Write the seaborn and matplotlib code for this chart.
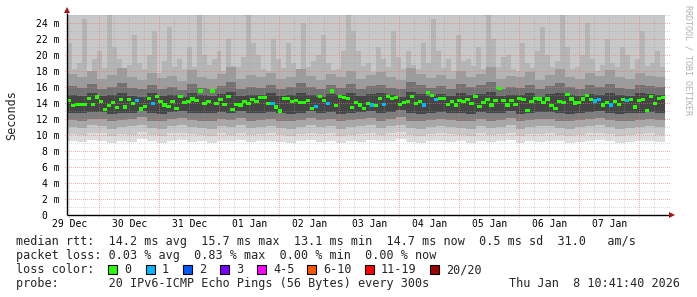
import numpy as np
import pandas as pd
import matplotlib
matplotlib.use("Agg")
import matplotlib.pyplot as plt
import seaborn as sns
from matplotlib.path import Path
from matplotlib.patches import Rectangle

sns.set_theme(style="white")
plt.rcParams['font.family'] = ['DejaVu Sans Mono', 'DejaVu Sans']

# ---------------- data ----------------
day_labels = ['29 Dec', '30 Dec', '31 Dec', '01 Jan', '02 Jan',
              '03 Jan', '04 Jan', '05 Jan', '06 Jan', '07 Jan']
y_tick_vals = [0, 2, 4, 6, 8, 10, 12, 14, 16, 18, 20, 22, 24]
y_tick_text = ['0  ', '2 m', '4 m', '6 m', '8 m', '10 m', '12 m', '14 m',
               '16 m', '18 m', '20 m', '22 m', '24 m']

# median rtt (ms), one value per ~1.6 h step
median_ms = [
    14.3, 13.7, 13.85, 13.8, 13.85, 14.55, 13.85, 14.75, 14.2, 13.15,
    13.7, 14.05, 13.4, 14.45, 13.5, 14.45, 13.95, 14.3, 13.25, 13.55,
    14.6, 13.95, 14.85, 14.15, 13.75, 13.55, 14.15, 13.35, 14.8, 14.05,
    14.2, 14.5, 14.3, 15.5, 13.95, 14.15, 15.5, 13.95, 14.45, 13.85,
    14.85, 13.15, 13.85, 13.75, 14.15, 13.9, 14.4, 14.2, 14.7, 14.7,
    13.9, 13.95, 13.5, 13.0, 14.6, 14.6, 14.15, 14.3, 14.1, 14.1,
    14.3, 13.35, 13.6, 14.85, 14.3, 13.95, 15.5, 13.65, 14.85, 14.7,
    14.6, 13.4, 14.05, 13.75, 13.3, 13.9, 13.75, 13.65, 14.55, 13.85,
    14.85, 14.55, 14.7, 13.85, 14.05, 14.2, 14.8, 13.9, 14.15, 13.75,
    15.35, 14.95, 14.4, 14.6, 14.6, 13.85, 14.15, 13.75, 14.3, 14.15,
    14.4, 13.9, 14.85, 13.6, 14.05, 14.45, 13.75, 14.3, 15.8, 14.35,
    13.75, 14.3, 13.85, 14.6, 14.45, 13.05, 14.15, 14.6, 14.5, 14.05,
    14.5, 13.7, 13.3, 14.2, 14.1, 15.05, 14.5, 14.0, 14.05, 14.5,
    14.9, 14.4, 14.25, 14.45, 13.75, 14.05, 13.75, 14.15, 13.8, 14.45,
    14.3, 14.4, 13.5, 14.3, 14.45, 13.1, 14.8, 13.9, 14.6, 14.65,
]
# steps where 1 of 20 pings was lost
loss1_steps = [17, 21, 51, 62, 65, 76, 79, 89, 92, 132, 133, 136, 140]

# smoke (ms), one value per ~4 h step
smoke_min = [
    9.2, 9.1, 9.4, 9.2, 9.0, 9.3, 9.1, 9.5, 9.2, 9.0, 9.3, 9.4, 9.1, 9.2, 9.0, 9.3, 9.2, 9.4, 9.1, 9.2,
    9.3, 9.1, 9.0, 9.2, 9.4, 9.1, 9.3, 9.0, 9.2, 9.1, 9.4, 9.2, 9.3, 9.5, 9.1, 9.0, 9.2, 9.3, 9.1, 9.2,
    9.0, 9.3, 9.1, 9.2, 9.4, 9.0, 9.2, 9.1, 9.3, 9.2, 9.0, 9.1, 9.3, 9.4, 9.2, 9.0, 9.1, 9.2, 9.3, 9.1]
smoke_lo1 = [
    10.1, 10.0, 10.2, 10.2, 9.9, 10.1, 10.0, 10.4, 10.0, 9.9, 10.2, 10.3, 10.1, 10.0, 9.9, 10.2, 10.0, 10.3, 10.0, 10.1,
    10.2, 10.0, 9.9, 10.1, 10.3, 10.1, 10.2, 9.9, 10.0, 10.1, 10.3, 10.0, 10.2, 10.4, 10.0, 9.9, 10.1, 10.2, 10.1, 10.0,
    9.9, 10.2, 10.0, 10.1, 10.3, 9.9, 10.1, 10.1, 10.2, 10.0, 9.9, 10.0, 10.2, 10.3, 10.1, 9.9, 10.0, 10.1, 10.2, 10.0]
smoke_lo2 = [
    11.0, 10.9, 11.2, 11.1, 10.8, 11.0, 11.1, 11.3, 10.9, 10.8, 11.1, 11.2, 11.0, 10.9, 10.8, 11.1, 11.0, 11.2, 10.9, 11.0,
    11.1, 10.9, 10.8, 11.0, 11.2, 11.0, 11.1, 10.8, 11.0, 11.1, 11.2, 10.9, 11.1, 11.3, 10.9, 10.8, 11.0, 11.1, 11.0, 10.9,
    10.8, 11.1, 10.9, 11.0, 11.2, 10.8, 11.0, 11.1, 11.1, 10.9, 10.8, 11.0, 11.1, 11.2, 11.0, 10.8, 10.9, 11.0, 11.1, 11.0]
smoke_lo3 = [
    11.9, 11.8, 12.0, 12.0, 11.7, 11.9, 12.0, 12.2, 11.8, 11.7, 12.0, 12.1, 11.9, 11.8, 11.8, 12.0, 11.9, 12.1, 11.8, 11.9,
    12.0, 11.8, 11.7, 11.9, 12.1, 11.9, 12.0, 11.7, 11.9, 12.0, 12.1, 11.8, 12.0, 12.2, 11.8, 11.7, 11.9, 12.0, 11.9, 11.8,
    11.7, 12.0, 11.8, 11.9, 12.1, 11.7, 11.9, 12.0, 12.0, 11.8, 11.7, 11.9, 12.0, 12.1, 11.9, 11.7, 11.8, 11.9, 12.0, 11.9]
smoke_lo4 = [
    12.8, 12.7, 12.9, 12.9, 12.6, 12.8, 12.8, 13.0, 12.7, 12.6, 12.9, 13.0, 12.8, 12.7, 12.7, 12.9, 12.8, 13.0, 12.7, 12.8,
    12.9, 12.7, 12.6, 12.8, 13.0, 12.8, 12.9, 12.6, 12.8, 12.9, 13.0, 12.7, 12.9, 13.1, 12.7, 12.6, 12.8, 12.9, 12.8, 12.7,
    12.6, 12.9, 12.7, 12.8, 13.0, 12.6, 12.8, 12.9, 12.9, 12.7, 12.6, 12.8, 12.9, 13.0, 12.8, 12.6, 12.7, 12.8, 12.9, 12.8]
smoke_hi4 = [
    15.0, 14.9, 15.2, 14.9, 15.0, 15.3, 14.9, 14.8, 15.2, 14.9, 15.0, 14.8, 15.3, 15.0, 14.9, 15.1, 15.4, 14.9, 15.0, 15.0,
    15.2, 14.9, 15.0, 15.3, 15.0, 14.8, 15.1, 15.0, 15.2, 14.9, 15.1, 15.2, 15.0, 14.8, 15.4, 15.1, 14.9, 15.1, 14.9, 15.3,
    15.0, 15.1, 15.4, 14.9, 15.0, 15.0, 15.2, 14.8, 15.1, 15.3, 15.0, 14.9, 15.1, 15.0, 15.2, 15.0, 14.9, 15.2, 15.1, 15.0]
smoke_hi3 = [
    16.1, 15.9, 16.4, 15.8, 16.0, 16.5, 15.9, 15.7, 16.3, 15.8, 16.0, 15.6, 16.4, 15.9, 15.8, 16.1, 16.6, 15.8, 16.0, 15.9,
    16.3, 15.8, 16.0, 16.5, 16.0, 15.7, 16.2, 15.9, 16.4, 15.8, 16.1, 16.3, 15.9, 15.7, 16.6, 16.2, 15.9, 16.1, 15.8, 16.4,
    16.0, 16.2, 16.6, 15.8, 16.0, 15.9, 16.3, 15.7, 16.1, 16.5, 16.0, 15.8, 16.2, 16.0, 16.4, 15.9, 15.8, 16.3, 16.1, 16.0]
smoke_hi2 = [
    17.6, 17.2, 18.0, 17.0, 17.5, 18.4, 17.3, 16.9, 17.8, 17.1, 17.4, 16.8, 18.1, 17.2, 17.0, 17.6, 18.5, 17.0, 17.5, 17.2,
    17.8, 17.0, 17.3, 18.3, 17.4, 16.9, 17.6, 17.2, 18.0, 17.0, 17.5, 17.9, 17.2, 16.9, 18.4, 17.6, 17.1, 17.5, 17.0, 18.0,
    17.3, 17.6, 18.5, 17.0, 17.4, 17.2, 17.9, 16.9, 17.5, 18.3, 17.3, 17.0, 17.7, 17.4, 18.1, 17.2, 17.0, 17.8, 17.4, 17.3]
# upper streaks (ms), one value per ~2 h step
smoke_hi1 = [
    21.5, 18.2, 19.0, 24.5, 18.0, 19.5, 20.5, 18.4, 25.0, 21.0, 19.5, 18.0, 18.8, 22.5, 19.0, 18.3,
    20.0, 23.0, 17.8, 19.2, 23.5, 18.5, 19.5, 18.2, 21.0, 18.5, 25.0, 20.0, 18.8, 19.5, 20.5, 18.0,
    22.0, 18.6, 18.5, 19.8, 25.0, 21.5, 20.0, 18.3, 18.0, 22.0, 19.5, 18.4, 21.5, 19.0, 18.2, 24.0,
    18.5, 19.2, 20.0, 22.5, 19.0, 18.1, 18.2, 20.5, 25.0, 23.0, 20.5, 18.6, 19.0, 17.9, 21.0, 19.5,
    18.5, 23.0, 19.8, 18.2, 20.5, 18.8, 18.3, 21.5, 19.0, 24.5, 20.5, 18.4, 19.5, 18.0, 22.5, 19.2,
    19.5, 18.6, 21.0, 18.2, 25.0, 22.0, 18.5, 19.8, 20.0, 18.3, 18.0, 21.5, 19.0, 18.4, 20.5, 23.5,
    20.0, 18.5, 19.2, 25.0, 21.0, 18.2, 18.5, 20.0, 24.0, 19.5, 18.0, 18.8, 22.0, 19.0, 18.5, 21.0,
    20.0, 18.2, 19.5, 23.0, 18.6, 19.0, 20.5, 18.5]

loss_names = ['0', '1', '2', '3', '4-5', '6-10', '11-19', '20/20']
loss_colors = ['#26ff00', '#00b8ff', '#0059ff', '#7e00ff',
               '#ff00ff', '#ff5500', '#ff0000', '#a10000']

legend_rtt = "median rtt:  14.2 ms avg  15.7 ms max  13.1 ms min  14.7 ms now  0.5 ms sd  31.0   am/s"
legend_loss = "packet loss: 0.03 % avg  0.83 % max  0.00 % min  0.00 % now"
probe_text = "probe:       20 IPv6-ICMP Echo Pings (56 Bytes) every 300s"
stamp_text = "Thu Jan  8 10:41:40 2026"

# ---------------- layout ----------------
W, H = 697, 297
fig = plt.figure(figsize=(W / 100, H / 100), dpi=100, facecolor='white')
ax = fig.add_axes([67 / W, 82 / H, 601 / W, 200 / H])
ax.set_facecolor('white')

span_h = 240.4        # hours shown
data_end_h = 239.2    # last data
first_noon_h = 0.92   # position of the first day label (noon)
YMAX = 25

def ext(a):
    a = np.asarray(a, float)
    return np.append(a, a[-1])

# smoke (lower/middle bands)
n_s = len(smoke_min)
t_s = np.arange(n_s + 1) * (data_end_h / n_s)
strips = [
    (smoke_min, smoke_lo1, '#dcdcdc'),
    (smoke_lo1, smoke_lo2, '#c8c8c8'),
    (smoke_lo2, smoke_lo3, '#a8a8a8'),
    (smoke_lo3, smoke_lo4, '#7e7e7e'),
    (smoke_lo4, smoke_hi4, '#454545'),
    (smoke_hi4, smoke_hi3, '#727272'),
    (smoke_hi3, smoke_hi2, '#9c9c9c'),
]
for lo, hi, c in strips:
    ax.fill_between(t_s, ext(lo), ext(hi), step='post', color=c,
                    linewidth=0, antialiased=False, zorder=1)
# upper light region up to the top, then the streaks
ax.fill_between(t_s, ext(smoke_hi2), ext([YMAX] * n_s), step='post',
                color='#c8c8c8', linewidth=0, antialiased=False, zorder=0.9)
n_h = len(smoke_hi1)
t_h = np.arange(n_h + 1) * (data_end_h / n_h)
ax.fill_between(t_h, ext([16.5] * n_h), ext(smoke_hi1), step='post',
                color='#b5b5b5', linewidth=0, antialiased=False, zorder=0.95)

# grid (light dotted)
red = (0.92, 0.45, 0.45, 0.55)
grey = (0.6, 0.6, 0.6, 0.35)
dots = (0, (1, 2))
for y in range(1, YMAX + 1):
    col = red if y % 2 == 0 else grey
    ax.axhline(y, xmin=-0.004, xmax=1.004, color=col, lw=0.72,
               linestyle=dots, zorder=2, clip_on=False, antialiased=False)
k = 0
t = first_noon_h
while t < span_h:
    is_midnight = (k % 4 == 2)
    col = red if is_midnight else grey
    ax.axvline(t, ymin=-0.012, ymax=1.0, color=col, lw=0.72,
               linestyle=dots, zorder=2, clip_on=False, antialiased=False)
    k += 1
    t = first_noon_h + 6 * k

# median
n_m = len(median_ms)
step_m = data_end_h / n_m
loss = ['0'] * n_m
for i in loss1_steps:
    loss[i] = '1'
df = pd.DataFrame({'t': (np.arange(n_m) + 0.5) * step_m,
                   'ms': median_ms, 'loss': loss})
rect = Path([(-1, -0.7), (1, -0.7), (1, 0.7), (-1, 0.7), (-1, -0.7)],
            [Path.MOVETO, Path.LINETO, Path.LINETO, Path.LINETO, Path.CLOSEPOLY])
sns.scatterplot(data=df, x='t', y='ms', hue='loss',
                palette={'0': loss_colors[0], '1': loss_colors[1]},
                marker=rect, s=10, linewidth=0, edgecolor='none',
                legend=False, ax=ax, zorder=4)

ax.set_xlim(0, span_h)
ax.set_ylim(0, YMAX)
for sp in ax.spines.values():
    sp.set_visible(False)
ax.set_xlabel('')
ax.set_ylabel('')

ax.set_xticks([first_noon_h + 24 * i for i in range(len(day_labels))])
ax.set_xticklabels(day_labels, fontsize=7, family='DejaVu Sans Mono')
ax.set_yticks(y_tick_vals)
ax.set_yticklabels(y_tick_text, fontsize=7, family='DejaVu Sans Mono')
ax.tick_params(axis='x', length=0, pad=3.2, colors='black')
ax.tick_params(axis='y', length=0, pad=5.5, colors='black')

# axes lines and arrows
ax.plot([0, 0], [0, 1.01], transform=ax.transAxes, color='black',
        lw=1.0, clip_on=False, zorder=5, solid_capstyle='butt')
ax.plot([0, 1.003], [0, 0], transform=ax.transAxes, color='black',
        lw=1.0, clip_on=False, zorder=5, solid_capstyle='butt')
ax.plot([0], [1.025], marker='^', ms=4, color='#a01515', mew=0,
        transform=ax.transAxes, clip_on=False, zorder=6)
ax.plot([1.006], [0], marker='>', ms=4, color='#a01515', mew=0,
        transform=ax.transAxes, clip_on=False, zorder=6)

# y label and watermark
fig.text(12 / W, 1 - 115 / H, 'Seconds', rotation=90, ha='center',
         va='center', fontsize=8.5, family='DejaVu Sans Mono')
fig.text(688 / W, 1 - 5 / H, 'RRDTOOL / TOBI OETIKER', rotation=270,
         ha='center', va='top', fontsize=6, color='#b0b0b0',
         family='DejaVu Sans Mono')

# legend block
fs = 8.5
def line(x, y_base, s, **kw):
    fig.text(x / W, 1 - y_base / H, s, ha='left', va='baseline',
             fontsize=fs, family='DejaVu Sans Mono', **kw)

line(16, 245.5, legend_rtt)
line(16, 259.5, legend_loss)
line(16, 273.3, 'loss color:')
sq_x = [108, 146, 183, 220, 257, 307, 365, 430]
for x0, name, col in zip(sq_x, loss_names, loss_colors):
    fig.add_artist(Rectangle((x0 / W, 1 - 273.5 / H), 9 / W, 9 / H,
                             transform=fig.transFigure, facecolor=col,
                             edgecolor='black', lw=0.8))
    line(x0 + 16, 273.3, name)
line(16, 287.2, probe_text)
fig.text(680 / W, 1 - 287.2 / H, stamp_text, ha='right', va='baseline',
         fontsize=fs, family='DejaVu Sans Mono')

fig.savefig('out.png', dpi=100, facecolor='white')
